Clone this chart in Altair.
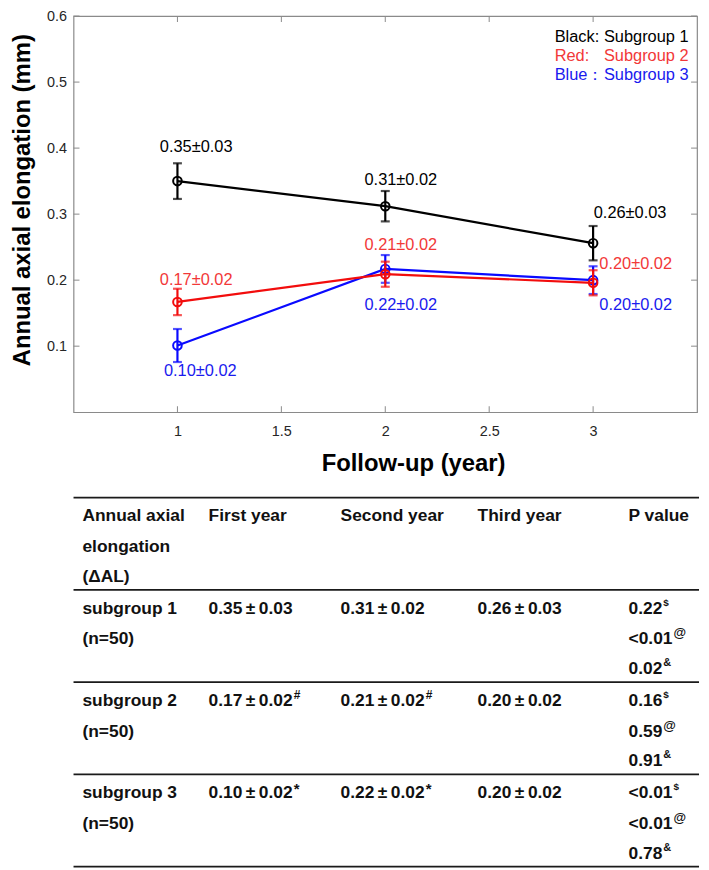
import altair as alt
import pandas as pd

FONT = "Liberation Sans, Arial, Helvetica, sans-serif"

# ---------------- data ----------------
YEARS = [1, 2, 3]
SERIES = ["Subgroup 1", "Subgroup 2", "Subgroup 3"]

MEAN_1 = [0.350, 0.312, 0.256]
ERR_1 = [0.027, 0.023, 0.026]
MEAN_2 = [0.167, 0.209, 0.196]
ERR_2 = [0.020, 0.019, 0.019]
MEAN_3 = [0.101, 0.217, 0.200]
ERR_3 = [0.025, 0.021, 0.021]

LABEL_1 = ["0.35±0.03", "0.31±0.02", "0.26±0.03"]
LABEL_2 = ["0.17±0.02", "0.21±0.02", "0.20±0.02"]
LABEL_3 = ["0.10±0.02", "0.22±0.02", "0.20±0.02"]

# annotation anchors (left edge, vertical centre) in data units
LABEL_X_1 = [0.915, 1.90, 3.003]
LABEL_Y_1 = [0.402, 0.351, 0.302]
LABEL_X_2 = [0.915, 1.90, 3.03]
LABEL_Y_2 = [0.200, 0.253, 0.224]
LABEL_X_3 = [0.935, 1.90, 3.03]
LABEL_Y_3 = [0.062, 0.163, 0.163]

LEGEND_PREFIX = ["Black:", "Red:", "Blue："]
LEGEND_NAME = ["Subgroup 1", "Subgroup 2", "Subgroup 3"]
LEGEND_Y = [0.568, 0.540, 0.511]
LEGEND_PREFIX_X = 2.815
LEGEND_NAME_X = 3.052

X_TICKS = [1, 1.5, 2, 2.5, 3]
Y_TICKS = [0.1, 0.2, 0.3, 0.4, 0.5, 0.6]

LINE_COLORS = ["#000000", "#f20d0d", "#0a0aff"]
TEXT_COLORS = ["#000000", "#f23838", "#1a1aee"]
FRAME = "#8a8a8a"

# table contents
HEADER_COL0 = ["Annual axial", "elongation", "(ΔAL)"]
HEADER = ["First year", "Second year", "Third year", "P value"]
ROW_NAMES = ["subgroup 1", "subgroup 2", "subgroup 3"]
ROW_N = ["(n=50)", "(n=50)", "(n=50)"]
FIRST = ["0.35±0.03", "0.17±0.02", "0.10±0.02"]
FIRST_SUP = ["", "#", "*"]
SECOND = ["0.31±0.02", "0.21±0.02", "0.22±0.02"]
SECOND_SUP = ["", "#", "*"]
THIRD = ["0.26±0.03", "0.20±0.02", "0.20±0.02"]
P_VALUES = [["0.22", "<0.01", "0.02"], ["0.16", "0.59", "0.91"], ["<0.01", "<0.01", "0.78"]]
P_SUPS = ["$", "@", "&"]

# ---------------- plot ----------------
W, H = 628, 399
xs = alt.Scale(domain=[0.5, 3.5], nice=False, zero=False)
ys = alt.Scale(domain=[0, 0.6], nice=False, zero=False)

x_axis = alt.Axis(values=X_TICKS, format="~g", title="Follow-up (year)", ticks=False,
                  domain=False, grid=False, labelPadding=12, titlePadding=14, titleX=342)
y_axis = alt.Axis(values=Y_TICKS, format=".1f", title="Annual axial elongation (mm)",
                  ticks=False, domain=False, grid=False, labelPadding=7, titlePadding=12,
                  titleY=185)


def X(field):
    return alt.X(field, scale=xs, axis=x_axis)


def Y(field):
    return alt.Y(field, scale=ys, axis=y_axis)


means = [MEAN_1, MEAN_2, MEAN_3]
errs = [ERR_1, ERR_2, ERR_3]
labels = [LABEL_1, LABEL_2, LABEL_3]
lxs = [LABEL_X_1, LABEL_X_2, LABEL_X_3]
lys = [LABEL_Y_1, LABEL_Y_2, LABEL_Y_3]

layers = []

# inward ticks on all four sides
xt = pd.DataFrame({"t": X_TICKS})
yt = pd.DataFrame({"t": Y_TICKS})
layers.append(alt.Chart(xt).mark_rule(color=FRAME, strokeWidth=1).encode(
    x=X("t:Q"), y=alt.value(H), y2=alt.value(H - 6)))
layers.append(alt.Chart(xt).mark_rule(color=FRAME, strokeWidth=1).encode(
    x=X("t:Q"), y=alt.value(0), y2=alt.value(6)))
layers.append(alt.Chart(yt).mark_rule(color=FRAME, strokeWidth=1).encode(
    y=Y("t:Q"), x=alt.value(0), x2=alt.value(6)))
layers.append(alt.Chart(yt).mark_rule(color=FRAME, strokeWidth=1).encode(
    y=Y("t:Q"), x=alt.value(W), x2=alt.value(W - 6)))

for i in [2, 1, 0]:
    df = pd.DataFrame({
        "year": YEARS,
        "mean": means[i],
        "lo": [m - e for m, e in zip(means[i], errs[i])],
        "hi": [m + e for m, e in zip(means[i], errs[i])],
    })
    c = LINE_COLORS[i]
    base = alt.Chart(df)
    layers.append(base.mark_line(color=c, strokeWidth=2.2).encode(
        x=X("year:Q"), y=Y("mean:Q")))
    layers.append(base.mark_errorbar(ticks=True, color=c, thickness=2.2, size=9).encode(
        x=X("year:Q"), y=Y("lo:Q"), y2="hi:Q"))
    layers.append(base.mark_point(shape="circle", filled=False, size=75, strokeWidth=2,
                                  color=c, opacity=1).encode(
        x=X("year:Q"), y=Y("mean:Q")))

for i in [0, 2, 1]:
    dl = pd.DataFrame({"lx": lxs[i], "ly": lys[i], "label": labels[i]})
    layers.append(alt.Chart(dl).mark_text(align="left", baseline="middle", font=FONT,
                                          fontSize=16.5, color=TEXT_COLORS[i]).encode(
        x=X("lx:Q"), y=Y("ly:Q"), text="label:N"))

leg = pd.DataFrame({"prefix": LEGEND_PREFIX, "name": LEGEND_NAME, "ly": LEGEND_Y,
                    "px": [LEGEND_PREFIX_X] * 3, "nx": [LEGEND_NAME_X] * 3,
                    "tc": TEXT_COLORS})
layers.append(alt.Chart(leg).mark_text(align="left", baseline="middle", font=FONT,
                                       fontSize=16.5).encode(
    x=X("px:Q"), y=Y("ly:Q"), text="prefix:N", color=alt.Color("tc:N", scale=None)))
layers.append(alt.Chart(leg).mark_text(align="left", baseline="middle", font=FONT,
                                       fontSize=16.5).encode(
    x=X("nx:Q"), y=Y("ly:Q"), text="name:N", color=alt.Color("tc:N", scale=None)))

plot = alt.layer(*layers).properties(
    width=W, height=H, view=alt.ViewBackground(stroke=FRAME, strokeWidth=1.2))

# ---------------- table ----------------
TW, TH = 630, 372
COL_LEFT = [9, 136, 269, 407, 559]
BLOCK = 92.9
LINE_OFF = [19, 50, 80]
FS = 17.5
PM = "\u2009±\u2009"
CHAR_W = {"0": 556, "1": 556, "2": 556, "3": 556, "4": 556, "5": 556, "6": 556,
          "7": 556, "8": 556, "9": 556, ".": 278, "<": 584, "±": 549, "\u2009": 200}
SUP_SIZE = {"$": 10, "@": 13, "&": 11, "#": 12, "*": 15}
SUP_RISE = {"$": 6, "@": 6, "&": 6, "#": 6, "*": 4}


def text_w(s):
    return sum(CHAR_W.get(ch, 556) for ch in s) * FS / 1000.0


main_rows, sup_rows = [], []


def cell(block, line, col, text, sup=""):
    text = text.replace("±", PM)
    y = block * BLOCK + LINE_OFF[line]
    x = COL_LEFT[col]
    main_rows.append({"x": x, "y": y, "t": text})
    if sup:
        sup_rows.append({"x": x + text_w(text) + 1, "y": y - SUP_RISE[sup], "t": sup,
                         "s": SUP_SIZE[sup]})


for k, t in enumerate(HEADER_COL0):
    cell(0, k, 0, t)
for j, t in enumerate(HEADER):
    cell(0, 0, j + 1, t)
for r in range(3):
    b = r + 1
    cell(b, 0, 0, ROW_NAMES[r])
    cell(b, 1, 0, ROW_N[r])
    cell(b, 0, 1, FIRST[r], FIRST_SUP[r])
    cell(b, 0, 2, SECOND[r], SECOND_SUP[r])
    cell(b, 0, 3, THIRD[r])
    for k in range(3):
        cell(b, k, 4, P_VALUES[r][k], P_SUPS[k])

tx = alt.Scale(domain=[0, TW], nice=False, zero=False)
ty = alt.Scale(domain=[0, TH], nice=False, zero=False, reverse=True)

rules = pd.DataFrame({"ry": [b * BLOCK for b in range(5)]})
t_rules = alt.Chart(rules).mark_rule(color="#1a1a1a", strokeWidth=1.8).encode(
    y=alt.Y("ry:Q", scale=ty, axis=None), x=alt.value(0), x2=alt.value(TW))
t_main = alt.Chart(pd.DataFrame(main_rows)).mark_text(
    align="left", baseline="middle", font=FONT, fontSize=FS, fontWeight="bold",
    color="#111111").encode(
    x=alt.X("x:Q", scale=tx, axis=None), y=alt.Y("y:Q", scale=ty, axis=None), text="t:N")
t_sup = alt.Chart(pd.DataFrame(sup_rows)).mark_text(
    align="left", baseline="middle", font=FONT, fontWeight="bold",
    color="#111111").encode(
    x=alt.X("x:Q", scale=tx, axis=None), y=alt.Y("y:Q", scale=ty, axis=None), text="t:N",
    size=alt.Size("s:Q", scale=None, legend=None))

table = alt.layer(t_rules, t_main, t_sup).properties(width=TW, height=TH)

chart = alt.vconcat(plot, table, spacing=19).properties(
    padding={"left": 2, "top": -4, "right": 0, "bottom": 0}
).configure_view(stroke="transparent").configure_axis(
    labelFont=FONT, titleFont=FONT, labelFontSize=14.5, labelColor="#262626",
    titleFontSize=24, titleFontWeight="bold", titleColor="#000000")

chart.save("out.html", embed_options={"renderer": "svg", "actions": False})
